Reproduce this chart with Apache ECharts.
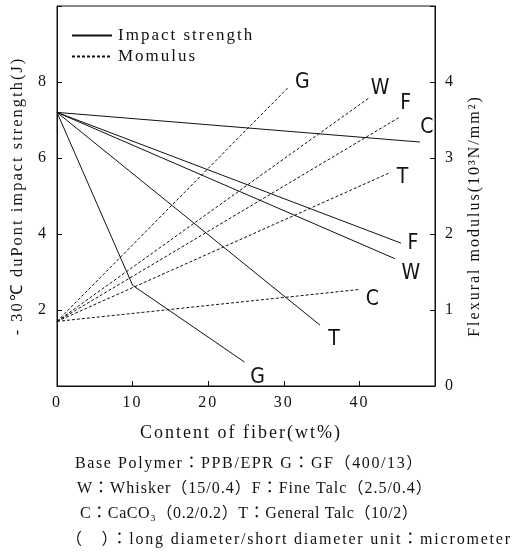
<!DOCTYPE html>
<html><head><meta charset="utf-8">
<script src="https://cdn.jsdelivr.net/npm/echarts@6/dist/echarts.min.js"></script>
<style>html,body{margin:0;padding:0;background:#fff}#c{width:515px;height:553px}</style>
</head><body><div id="c"></div>
<script>
// Fiber content (wt%) and values
const impactG = [[0, 7.2], [10, 2.65], [24.8, 0.63]];
const impactT = [[0, 7.2], [34.8, 1.6]];
const impactW = [[0, 7.2], [44.7, 3.35]];
const impactF = [[0, 7.2], [45.5, 3.76]];
const impactC = [[0, 7.2], [48, 6.42]];
const modG = [[0, 0.85], [30.6, 3.93]];
const modW = [[0, 0.85], [41.4, 3.80]];
const modF = [[0, 0.85], [45.2, 3.53]];
const modT = [[0, 0.85], [44.1, 2.81]];
const modC = [[0, 0.85], [40.0, 1.27]];
const xTicks = [0, 10, 20, 30, 40];
const leftTicks = [2, 4, 6, 8];
const rightTicks = [0, 1, 2, 3, 4];
const captions = [
  'Base Polymer\uff1aPPB/EPR G\uff1aGF\uff08400/13\uff09',
  'W\uff1aWhisker\uff0815/0.4\uff09F\uff1aFine Talc\uff082.5/0.4\uff09',
  'C\uff1aCaCO\u2083\uff080.2/0.2\uff09T\uff1aGeneral Talc\uff0810/2\uff09',
  '\uff08\u3000\uff09\uff1along diameter/short diameter unit\uff1amicrometer'
];

// the printed original uses widely spaced type: add letter spacing to canvas text.
// A leading "lsN" family name in a font string selects N px spacing.
(function () {
  const d = Object.getOwnPropertyDescriptor(CanvasRenderingContext2D.prototype, 'font');
  if (!d || !('letterSpacing' in CanvasRenderingContext2D.prototype)) return;
  Object.defineProperty(CanvasRenderingContext2D.prototype, 'font', {
    configurable: true,
    get: function () { return d.get.call(this); },
    set: function (v) {
      d.set.call(this, v);
      const m = /ls(\d+(?:\.\d+)?)/.exec(v);
      this.letterSpacing = m ? m[1] + 'px' : (/Narrow|Condensed/.test(v) ? '0px' : '2px');
    }
  });
})();

const SERIF = '"Liberation Serif","Times New Roman",serif';
const NARROW = '"Liberation Sans Narrow","DejaVu Sans Condensed",sans-serif';
const capSpacing = [1.6, 1, 0.6, 1.8];

function lineSeries(name, data, yIdx, letter, off, dashed) {
  return {
    type: 'line', name: name, data: data, yAxisIndex: yIdx,
    showSymbol: false, symbol: 'none', silent: true, animation: false,
    itemStyle: { color: '#111' },
    lineStyle: { color: '#111', width: 1, type: dashed ? [3, 2] : 'solid' },
    endLabel: {
      show: true, formatter: letter, distance: 0, offset: off,
      align: 'center', verticalAlign: 'middle',
      fontFamily: NARROW, fontSize: 21, color: '#111'
    }
  };
}

const IMP = 'Impact strength', MOD = 'Momulus';
const series = [
  lineSeries(IMP, impactC, 0, 'C', [7, -14], false),
  lineSeries(IMP, impactF, 0, 'F', [12, 0], false),
  lineSeries(IMP, impactW, 0, 'W', [16, 15], false),
  lineSeries(IMP, impactT, 0, 'T', [14, 14], false),
  lineSeries(IMP, impactG, 0, 'G', [13, 15], false),
  lineSeries(MOD, modG, 1, 'G', [14, -5], true),
  lineSeries(MOD, modW, 1, 'W', [10, -9], true),
  lineSeries(MOD, modF, 1, 'F', [7, -14], true),
  lineSeries(MOD, modT, 1, 'T', [12, 5], true),
  lineSeries(MOD, modC, 1, 'C', [13, 10], true)
];

const chart = echarts.init(document.getElementById('c'), null, { renderer: 'canvas' });
chart.setOption({
  animation: false,
  backgroundColor: '#fff',
  grid: { left: 57, right: 80, top: 6, bottom: 167, outerBoundsMode: 'none', containLabel: false,
    show: true, borderColor: '#111', borderWidth: 1, backgroundColor: 'transparent' },
  legend: {
    data: [IMP, MOD], orient: 'vertical', left: 66, top: 21, itemGap: 2,
    itemWidth: 40, itemHeight: 14, selectedMode: false,
    itemStyle: { opacity: 0 },
    textStyle: { fontFamily: SERIF, fontSize: 17, color: '#111', padding: [0, 0, 0, 1] }
  },
  xAxis: {
    type: 'value', min: 0, max: 50, interval: 10,
    name: 'Content of fiber(wt%)', nameLocation: 'middle', nameGap: 37,
    nameTextStyle: { fontFamily: SERIF, fontSize: 18, color: '#111', padding: [0, 10, 0, 0] },
    axisLine: { show: true, lineStyle: { color: '#111' } },
    axisTick: { show: true, inside: true, length: 5, lineStyle: { color: '#111' } },
    axisLabel: { margin: 8, fontFamily: SERIF, fontSize: 16, color: '#111',
      formatter: v => xTicks.indexOf(v) >= 0 ? String(v) : '' },
    splitLine: { show: false }
  },
  yAxis: [
    {
      type: 'value', min: 0, max: 10, interval: 2, position: 'left',
      name: '- 30\u2103 duPont impact strength(J)', nameLocation: 'middle', nameGap: 25, nameRotate: 90,
      nameTextStyle: { fontFamily: SERIF, fontSize: 16.5, color: '#111' },
      axisLine: { show: true, lineStyle: { color: '#111' } },
      axisTick: { show: true, inside: true, length: 5, lineStyle: { color: '#111' } },
      axisLabel: { margin: 9, fontFamily: SERIF, fontSize: 16, color: '#111',
        formatter: v => leftTicks.indexOf(v) >= 0 ? String(v) : '' },
      splitLine: { show: false }
    },
    {
      type: 'value', min: 0, max: 5, interval: 1, position: 'right',
      name: 'Flexural modulus(10\u00b3N/mm\u00b2)', nameLocation: 'middle', nameGap: 17, nameRotate: 90,
      nameTextStyle: { fontFamily: SERIF, fontSize: 16, color: '#111', padding: [0, 40, 0, 0] },
      axisLine: { show: true, lineStyle: { color: '#111' } },
      axisTick: { show: true, inside: true, length: 5, lineStyle: { color: '#111' } },
      axisLabel: { margin: 10, fontFamily: SERIF, fontSize: 16, color: '#111',
        formatter: v => rightTicks.indexOf(v) >= 0 ? String(v) : '' },
      splitLine: { show: false }
    }
  ],
  graphic: captions.map((t, i) => ({
    type: 'text', left: [75, 77, 80, 66][i], top: [455, 480, 505, 531][i], silent: true,
    style: { text: t, font: '16px "ls' + capSpacing[i] + '","Liberation Serif","Noto Sans CJK JP",serif', fill: '#111' }
  })),
  series: series
});
</script></body></html>
